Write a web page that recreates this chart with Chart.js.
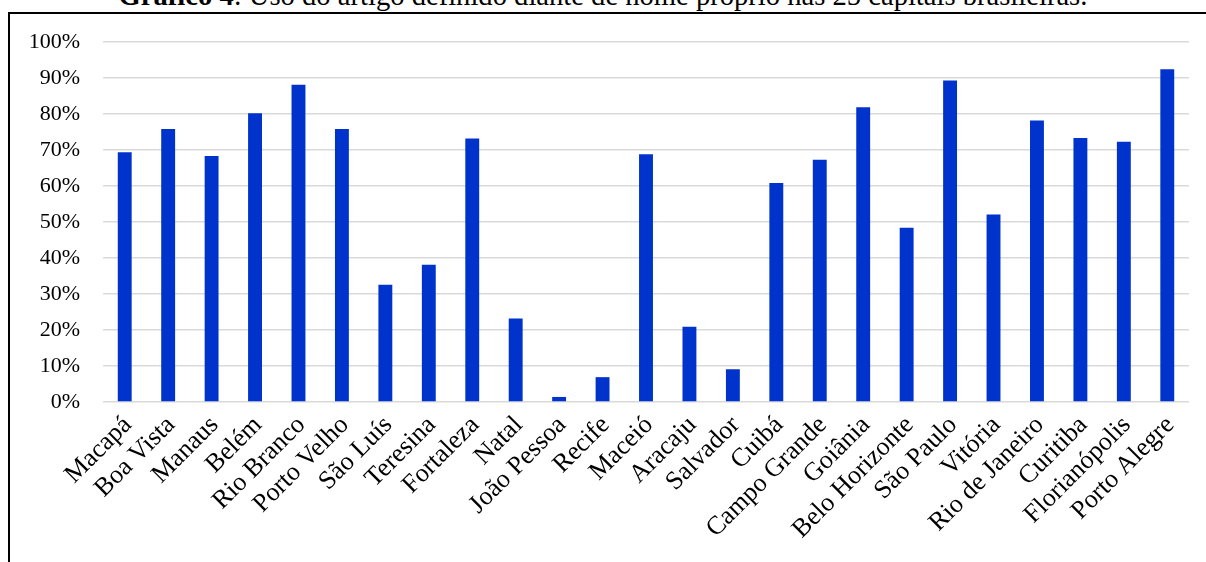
<!DOCTYPE html>
<html>
<head>
<meta charset="utf-8">
<script src="https://cdn.jsdelivr.net/npm/chart.js@4"></script>
<style>
  html, body { margin: 0; padding: 0; background: #fff; overflow: hidden; }
  body { width: 1206px; height: 562px; position: relative; font-family: "Liberation Serif", "Times New Roman", serif; }
  #frame { position: absolute; left: 8px; top: 12px; width: 1300px; height: 700px; border-top: 2px solid #000; border-left: 2px solid #000; }
  #title { position: absolute; left: 0; width: 1206px; top: -18px; font-size: 28.6px; line-height: 28px; text-align: center; color: #000; white-space: nowrap; }
  #wrap { position: absolute; left: 0; top: 0; width: 1206px; height: 562px; }
</style>
</head>
<body>
<div id="frame"></div>
<div id="title"><b>Gráfico 4</b>: Uso do artigo definido diante de nome próprio nas 25 capitais brasileiras.</div>
<div id="wrap"><canvas id="chart"></canvas></div>
<script>
const capitals = ["Macapá", "Boa Vista", "Manaus", "Belém", "Rio Branco", "Porto Velho", "São Luís",
  "Teresina", "Fortaleza", "Natal", "João Pessoa", "Recife", "Maceió", "Aracaju", "Salvador",
  "Cuibá", "Campo Grande", "Goiânia", "Belo Horizonte", "São Paulo", "Vitória", "Rio de Janeiro",
  "Curitiba", "Florianópolis", "Porto Alegre"];
const usage = [69.4, 75.8, 68.3, 80.2, 88.1, 75.8, 32.6,
  38.1, 73.2, 23.2, 1.4, 6.9, 68.8, 20.9, 9.1,
  60.8, 67.3, 81.9, 48.4, 89.3, 52.1, 78.2,
  73.3, 72.3, 92.4];
const yTicks = [0, 10, 20, 30, 40, 50, 60, 70, 80, 90, 100];

const serif = "'Liberation Serif', 'Times New Roman', serif";

new Chart(document.getElementById("chart"), {
  type: "bar",
  data: {
    labels: capitals,
    datasets: [{
      data: usage,
      backgroundColor: "#0033cc",
      categoryPercentage: 1,
      barPercentage: 0.32
    }]
  },
  options: {
    responsive: true,
    maintainAspectRatio: false,
    animation: false,
    layout: { padding: { top: 42, right: 17, left: 0, bottom: 0 } },
    plugins: { legend: { display: false }, title: { display: false }, tooltip: { enabled: false } },
    scales: {
      x: {
        grid: { display: false },
        border: { display: false },
        ticks: { font: { family: serif, size: 26 }, color: "#000", minRotation: 45, maxRotation: 45, padding: 0, labelOffset: 3, autoSkip: false },
        afterFit: (axis) => { axis.height = 160; }
      },
      y: {
        min: 0,
        max: 100,
        afterBuildTicks: (axis) => { axis.ticks = yTicks.map(v => ({ value: v })); },
        grid: { color: "#d9d9d9", lineWidth: 1.5, drawTicks: false },
        border: { display: false },
        ticks: { font: { family: serif, size: 22 }, color: "#000", padding: 23, callback: (v) => v + "%" },
        afterFit: (axis) => { axis.width = 103; }
      }
    }
  }
});
</script>
</body>
</html>
